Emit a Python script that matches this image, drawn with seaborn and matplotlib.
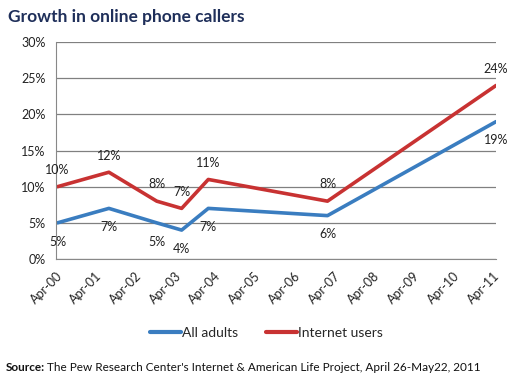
import pandas as pd
import matplotlib.pyplot as plt
import matplotlib.dates as mdates
import seaborn as sns

# Survey dates and shares (%)
dates = ["2000-04-15", "2001-08-01", "2002-10-15", "2003-06-01",
         "2004-02-01", "2007-02-01", "2011-05-01"]
all_adults = [5, 7, 5, 4, 7, 6, 19]
internet_users = [10, 12, 8, 7, 11, 8, 24]
series_names = ["All adults", "Internet users"]
colors = ["#3A7DC0", "#C83232"]

df = pd.DataFrame({
    "date": pd.to_datetime(dates * 2),
    "value": all_adults + internet_users,
    "series": [series_names[0]] * len(dates) + [series_names[1]] * len(dates),
})

sns.set_style("white")
plt.rcParams["font.family"] = ["Lato", "DejaVu Sans"]

fig = plt.figure(figsize=(5.13, 3.86), dpi=100)
ax = fig.add_axes([0.109, 0.329, 0.858, 0.562])

sns.lineplot(data=df, x="date", y="value", hue="series",
             palette=colors, linewidth=2.6, ax=ax, legend=False)

# data labels: red above, blue below
for name, vals, off in [(series_names[0], all_adults, -13.5),
                        (series_names[1], internet_users, 12)]:
    for d, v in zip(pd.to_datetime(dates), vals):
        ax.annotate(f"{v}%", (d, v), xytext=(0, off), textcoords="offset points",
                    ha="center", va="center", fontsize=9, color="#222222")

ax.set_ylim(0, 30)
ax.set_yticks(range(0, 31, 5))
ax.set_yticklabels([f"{t}%" for t in range(0, 31, 5)])
ax.set_xlim(pd.Timestamp("2000-04-01"), pd.Timestamp("2011-05-01"))
ticks = pd.date_range("2000-04-01", "2011-04-01", freq="12MS")
ax.set_xticks(ticks)
ax.xaxis.set_major_formatter(mdates.DateFormatter("%b-%y"))
plt.setp(ax.get_xticklabels(), rotation=45, ha="right", rotation_mode="anchor")
ax.tick_params(axis="both", labelsize=9, length=4, color="#888888",
               direction="out", labelcolor="#222222")
ax.set_xlabel("")
ax.set_ylabel("")
ax.yaxis.grid(True, color="#808080", linewidth=0.9)
ax.set_axisbelow(True)
for s in ["top", "right"]:
    ax.spines[s].set_visible(False)
for s in ["left", "bottom"]:
    ax.spines[s].set_color("#888888")

handles = [plt.Line2D([], [], color=c, linewidth=3) for c in colors]
fig.legend(handles, series_names, loc="center", bbox_to_anchor=(0.52, 0.137),
           ncol=2, frameon=False, fontsize=10, handlelength=2.2,
           handletextpad=0.1, columnspacing=2.0)

fig.text(0.016, 0.955, "Growth in online phone callers", fontsize=12.5,
         fontweight="bold", color="#1F2F5A", va="center")
fig.text(0.012, 0.047, "Source:", fontsize=8.5, fontweight="bold",
         color="#111111", va="center")
fig.text(0.092, 0.047,
         "The Pew Research Center's Internet & American Life Project, April 26-May22, 2011",
         fontsize=8.5, color="#111111", va="center")

fig.savefig("out.png", dpi=100)
